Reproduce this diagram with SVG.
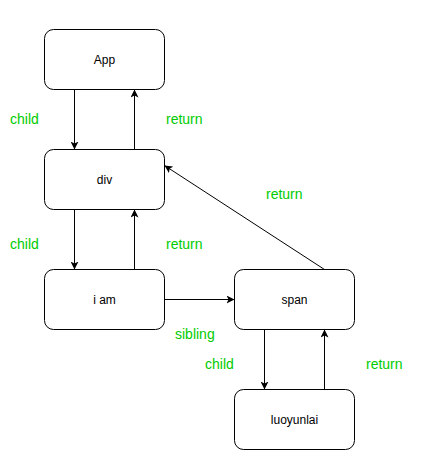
<svg xmlns="http://www.w3.org/2000/svg" width="424" height="465" viewBox="0 0 424 465">
<style>
.node rect{fill:#ffffff;stroke:#000000;stroke-width:1}
.node text{font-family:"Liberation Sans",Arial,sans-serif;font-size:12px;fill:#000000;text-anchor:middle}
.edge{fill:none;stroke:#000000;stroke-width:1;marker-end:url(#arr)}
.lbl{font-family:"Liberation Sans",Arial,sans-serif;font-size:14px;fill:#00CC00}
</style>
<defs>
<marker id="arr" markerUnits="userSpaceOnUse" markerWidth="8" markerHeight="8" viewBox="0 0 8 8" refX="8" refY="4" orient="auto">
<path d="M0,0 L8,4 L0,8 L2,4 Z" fill="#000000"/>
</marker>
</defs>
<rect width="424" height="465" fill="#ffffff"/>
<g id="connectors">
<path class="edge" d="M74.5,89.5 L74.5,149.5"/>
<path class="edge" d="M134.5,149.5 L134.5,89.5"/>
<path class="edge" d="M74.5,209.5 L74.5,269.5"/>
<path class="edge" d="M134.5,269.5 L134.5,209.5"/>
<path class="edge" d="M164.5,299.5 L234.5,299.5"/>
<path class="edge" d="M324.5,269.5 L164.5,165.5"/>
<path class="edge" d="M264.5,329.5 L264.5,389.5"/>
<path class="edge" d="M324.5,389.5 L324.5,329.5"/>
</g>
<g id="labels">
<text class="lbl" x="10" y="124">child</text>
<text class="lbl" x="166" y="124">return</text>
<text class="lbl" x="10" y="249">child</text>
<text class="lbl" x="166" y="249">return</text>
<text class="lbl" x="266" y="199">return</text>
<text class="lbl" x="175" y="339">sibling</text>
<text class="lbl" x="205" y="369">child</text>
<text class="lbl" x="366" y="369">return</text>
</g>
<g id="node-app" class="node">
<rect x="44.5" y="29.5" width="120" height="60" rx="9" ry="9"/>
<text x="104.5" y="63.5">App</text>
</g>
<g id="node-div" class="node">
<rect x="44.5" y="149.5" width="120" height="60" rx="9" ry="9"/>
<text x="104.5" y="183.5">div</text>
</g>
<g id="node-iam" class="node">
<rect x="44.5" y="269.5" width="120" height="60" rx="9" ry="9"/>
<text x="104.5" y="303.5">i am</text>
</g>
<g id="node-span" class="node">
<rect x="234.5" y="269.5" width="120" height="60" rx="9" ry="9"/>
<text x="294.5" y="303.5">span</text>
</g>
<g id="node-luoyunlai" class="node">
<rect x="234.5" y="389.5" width="120" height="60" rx="9" ry="9"/>
<text x="294.5" y="423.5">luoyunlai</text>
</g>
</svg>
